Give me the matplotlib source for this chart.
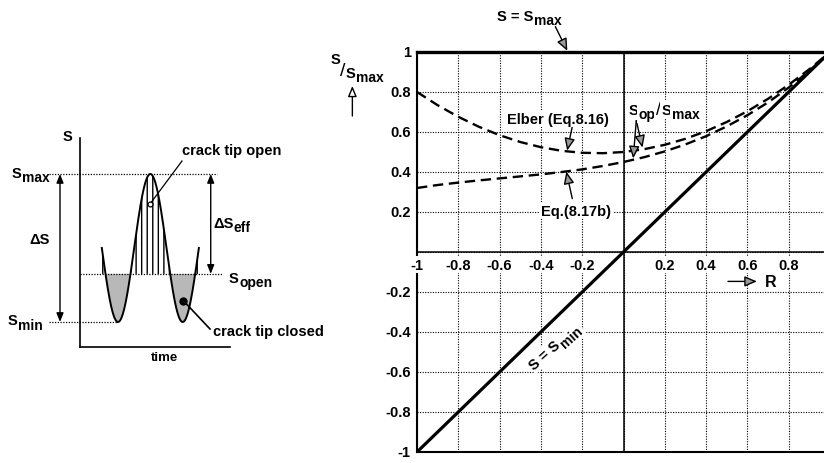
import numpy as np
import matplotlib
matplotlib.use("Agg")
import matplotlib.pyplot as plt
from matplotlib.font_manager import FontProperties

FAMILY = ['Liberation Sans', 'DejaVu Sans']
plt.rcParams['font.family'] = FAMILY
plt.rcParams['font.weight'] = 'bold'
plt.rcParams['font.size'] = 10.5
plt.rcParams['hatch.linewidth'] = 1.0

# ---- constant-amplitude load cycle (sketch on the left) ----
s_max = 1.0
s_min = -1.0
s_open = -0.35
cycle_start = 0.337      # first mean crossing (in cycles)
n_cycles = 1.5

# ---- crack opening stress ratio vs. stress ratio R ----
R = [-1.0, -0.9, -0.8, -0.7, -0.6, -0.5, -0.4, -0.3, -0.2, -0.1, 0.0,
     0.1, 0.2, 0.3, 0.4, 0.5, 0.6, 0.7, 0.8, 0.9, 1.0]
elber_sop = [0.800, 0.734, 0.676, 0.626, 0.584, 0.550, 0.524, 0.506, 0.496,
             0.494, 0.500, 0.514, 0.536, 0.566, 0.604, 0.650, 0.704, 0.766,
             0.836, 0.914, 1.000]
eq817b_sop = [0.320, 0.335, 0.347, 0.358, 0.368, 0.378, 0.388, 0.400, 0.413,
              0.430, 0.450, 0.474, 0.503, 0.538, 0.579, 0.628, 0.684, 0.748,
              0.822, 0.906, 1.000]

grid_values = [-1.0, -0.8, -0.6, -0.4, -0.2, 0.0, 0.2, 0.4, 0.6, 0.8, 1.0]
x_tick_labels = ['-1', '-0.8', '-0.6', '-0.4', '-0.2', '', '0.2', '0.4', '0.6', '0.8', '']
y_tick_labels = ['-1', '-0.8', '-0.6', '-0.4', '-0.2', '', '0.2', '0.4', '0.6', '0.8', '1']

W, H = 824, 464
fig = plt.figure(figsize=(W / 100, H / 100), dpi=100)
renderer = fig.canvas.get_renderer()

BASE = 10.5
SUB = 10.0
LOW = -3.2
white = dict(fc='white', ec='none', pad=1.2)


def run_text(ax, x, y, parts, rotation=0.0, box=False, zorder=4):
    """Write text runs one after another from (x, y); each run is
    (text, vertical shift in points, font size, weight)."""
    th = np.deg2rad(rotation)
    adv = 0.0
    for txt, dy, fs, wt in parts:
        ox = adv * np.cos(th) - dy * np.sin(th)
        oy = adv * np.sin(th) + dy * np.cos(th)
        ax.annotate(txt, xy=(x, y), xytext=(ox, oy), textcoords='offset points',
                    ha='left', va='baseline', rotation=rotation,
                    rotation_mode='anchor', fontsize=fs, fontweight=wt,
                    annotation_clip=False, zorder=zorder,
                    bbox=white if box else None)
        prop = FontProperties(family=FAMILY, weight=wt, size=fs)
        w, _, _ = renderer.get_text_width_height_descent(txt, prop, ismath=False)
        adv += w * 72.0 / fig.dpi + 0.4


def s_sub(head, sub):
    return [(head, 0, BASE, 'bold'), (sub, LOW, SUB, 'bold')]


# =================== left: load-time sketch ===================
axL = fig.add_axes([80 / W, 1 - 348 / H, 150 / W, 209 / H])
axL.set_xlim(0, 2.318)
axL.set_ylim(-1.338, 1.486)
for side in ('top', 'right'):
    axL.spines[side].set_visible(False)
for side in ('left', 'bottom'):
    axL.spines[side].set_linewidth(1.2)
axL.set_xticks([])
axL.set_yticks([])

s_mean = 0.5 * (s_max + s_min)
s_amp = 0.5 * (s_max - s_min)
t = np.linspace(cycle_start, cycle_start + n_cycles, 600)
s = s_mean - s_amp * np.cos(2 * np.pi * (t - cycle_start - 0.25))

axL.fill_between(t, s, s_open, where=s < s_open, interpolate=True,
                 facecolor='#b8b8b8', edgecolor='none', zorder=1)
axL.fill_between(t, s, s_open, where=s > s_open, interpolate=True,
                 facecolor='none', edgecolor='k', hatch='|||', lw=0, zorder=1)
axL.plot(t, s, color='k', lw=1.4, zorder=3)

dot = dict(color='k', lw=0.9, ls=(0, (1, 1.2)), clip_on=False)
axL.plot([-0.479, 2.117], [s_max, s_max], **dot)
axL.plot([0.0, 2.195], [s_open, s_open], **dot)
axL.plot([-0.479, cycle_start + 0.25], [s_min, s_min], **dot)

dbl = dict(arrowstyle='<|-|>,head_length=0.5,head_width=0.2', color='k', lw=1.0,
           shrinkA=0, shrinkB=0)
axL.annotate('', xy=(-0.309, s_max), xytext=(-0.309, s_min),
             arrowprops=dbl, annotation_clip=False)
axL.annotate('', xy=(2.02, s_max), xytext=(2.02, s_open),
             arrowprops=dbl, annotation_clip=False)

axL.text(-0.2, 1.51, 'S', ha='center', va='center', clip_on=False)
run_text(axL, -1.051, 0.96, s_sub('S', 'max'), zorder=4)
run_text(axL, -1.113, -1.03, s_sub('S', 'min'), zorder=4)
run_text(axL, 2.30, -0.46, s_sub('S', 'open'), zorder=4)
axL.text(-0.62, 0.12, 'ΔS', ha='center', va='center', clip_on=False)
run_text(axL, 2.056, 0.284, s_sub('ΔS', 'eff'), zorder=4)
axL.text(1.31, -1.47, 'time', ha='center', va='center', fontsize=9.5, clip_on=False)

axL.text(1.576, 1.27, 'crack tip open', ha='left', va='baseline', clip_on=False)
axL.plot([1.082, 1.576], [0.595, 1.175], color='k', lw=0.9, clip_on=False)
axL.plot([1.082], [0.595], marker='o', ms=3.5, mfc='white', mec='k', mew=0.9, zorder=5)
axL.text(2.056, -1.176, 'crack tip closed', ha='left', va='baseline', clip_on=False)
axL.plot([1.597, 2.009], [-0.712, -1.095], color='k', lw=1.2, clip_on=False)
axL.plot([1.597], [-0.712], marker='o', ms=5, color='k', zorder=5)

# =================== right: S_op/S_max versus R ===================
axR = fig.add_axes([417 / W, 1 - 453 / H, 413 / W, 400 / H])
axR.set_xlim(-1, 1)
axR.set_ylim(-1, 1)
axR.set_xticks(grid_values)
axR.set_yticks(grid_values)
axR.set_xticklabels([])
axR.set_yticklabels([])
axR.tick_params(length=0)
axR.set_axisbelow(True)
axR.grid(True, color='k', lw=0.8, ls=(0, (1, 1.3)))
axR.spines['bottom'].set_position(('data', 0))
axR.spines['bottom'].set_linewidth(1.1)
axR.spines['left'].set_linewidth(1.5)
axR.spines['top'].set_linewidth(2.4)
axR.spines['right'].set_linewidth(1.5)
axR.axhline(-1, color='k', lw=1.5, clip_on=False)
axR.axvline(0, color='k', lw=1.1)

axR.plot(R, R, color='k', lw=2.3, solid_capstyle='butt', zorder=5)
axR.plot(R, elber_sop, color='k', lw=1.7, dashes=(4.4, 2.4), zorder=3)
axR.plot(R, eq817b_sop, color='k', lw=1.7, dashes=(4.4, 2.4), zorder=3)

for v, lab in zip(grid_values, x_tick_labels):
    if lab:
        axR.text(v, -0.063, lab, ha='center', va='center', bbox=white, zorder=4)
for v, lab in zip(grid_values, y_tick_labels):
    if lab:
        axR.text(-1.03, v, lab, ha='right', va='center', clip_on=False)

arrow = dict(arrowstyle='-|>,head_length=0.7,head_width=0.3', fc='0.6', ec='k',
             lw=1.0, shrinkA=0, shrinkB=0)

run_text(axR, -0.612, 1.161, s_sub('S = S', 'max'))
axR.annotate('', xy=(-0.272, 1.006), xytext=(-0.33, 1.127),
             arrowprops=arrow, annotation_clip=False)

axR.text(-0.317, 0.667, 'Elber (Eq.8.16)', ha='center', va='center', bbox=white, zorder=4)
axR.annotate('', xy=(-0.273, 0.507), xytext=(-0.248, 0.627), arrowprops=arrow)

axR.text(-0.229, 0.207, 'Eq.(8.17b)', ha='center', va='center', bbox=white, zorder=4)
axR.annotate('', xy=(-0.277, 0.402), xytext=(-0.248, 0.267), arrowprops=arrow)

run_text(axR, 0.023, 0.69,
         [('S', 0, BASE, 'bold'), ('op', LOW, SUB, 'bold'),
          ('/', 0, 13, 'normal'), ('S', 0, BASE, 'bold'), ('max', LOW, SUB, 'bold')],
         box=True)
axR.annotate('', xy=(0.047, 0.468), xytext=(0.062, 0.657), arrowprops=arrow)
axR.annotate('', xy=(0.092, 0.522), xytext=(0.062, 0.657), arrowprops=arrow)

run_text(axR, -0.4327, -0.5885, s_sub('S = S', 'min'), rotation=42, box=True)

axR.annotate('', xy=(0.646, -0.147), xytext=(0.506, -0.147), arrowprops=arrow)
axR.text(0.714, -0.148, 'R', ha='center', va='center', fontsize=11.5, bbox=white, zorder=4)

# y-axis caption S/S_max with upward arrow
axR.text(-1.393, 0.967, 'S', ha='center', va='center', clip_on=False)
axR.text(-1.359, 0.907, '/', ha='center', va='center', fontsize=14,
         fontweight='normal', clip_on=False)
run_text(axR, -1.344, 0.877, s_sub('S', 'max'))
axR.annotate('', xy=(-1.313, 0.83), xytext=(-1.313, 0.68),
             arrowprops=dict(arrowstyle='-|>,head_length=0.6,head_width=0.25',
                             fc='white', ec='k', lw=1.0, shrinkA=0, shrinkB=0),
             annotation_clip=False)

fig.savefig('out.png', dpi=100)
